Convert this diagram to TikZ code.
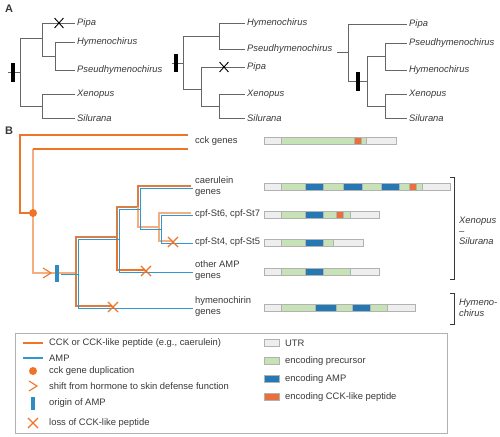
\documentclass[tikz,border=0pt]{standalone}
\usepackage{fontspec}
\setmainfont{Liberation Sans}
\usepackage{tikz}
\usetikzlibrary{shapes.misc}
\definecolor{cckC}{HTML}{EE7428}
\definecolor{cckdarkC}{HTML}{D97E44}
\definecolor{ccklightC}{HTML}{F4AE80}
\definecolor{ampC}{HTML}{2E98D0}
\definecolor{ampbarC}{HTML}{2E8CC2}
\definecolor{utrC}{HTML}{EEEEEE}
\definecolor{precC}{HTML}{C6E2B6}
\definecolor{ampsegC}{HTML}{2479B4}
\definecolor{cckSegC}{HTML}{E8703C}
\definecolor{txtC}{HTML}{383838}
\definecolor{treeC}{HTML}{666666}

\newcommand{\genebar}[2]{%
  \foreach \a/\b/\c in {#2}
    \draw[segment, fill=\c] (\a,#1-3.5) rectangle (\b,#1+3.5);}

\begin{document}
\begin{tikzpicture}[x=1pt, y=-1pt,
  every node/.style={text=txtC, font=\fontsize{9.4}{11}\selectfont},
  panel/.style={font=\bfseries\fontsize{11}{13}\selectfont, inner sep=0pt},
  leaf/.style={anchor=west, inner sep=2pt, font=\itshape\fontsize{9.4}{11}\selectfont},
  gene/.style={anchor=west, inner sep=3pt, align=left},
  legtext/.style={anchor=west, inner sep=2pt},
  branch/.style={draw=treeC, line width=0.8pt},
  gainbar/.style={fill=black, minimum width=4pt, minimum height=19pt, inner sep=0pt},
  lossA/.style={cross out, draw=black, line width=0.9pt, minimum width=8pt, minimum height=9pt, inner sep=0pt},
  lossB/.style={cross out, draw=cckC, line width=1.1pt, minimum width=9pt, minimum height=9pt, inner sep=0pt},
  dupdot/.style={circle, fill=cckC, minimum size=8pt, inner sep=0pt},
  ampbar/.style={fill=ampbarC, minimum width=4.5pt, minimum height=17pt, inner sep=0pt},
  cckline/.style={draw=cckC, line width=1.1pt},
  cckdark/.style={draw=cckdarkC, line width=1.3pt},
  cckthin/.style={draw=ccklightC, line width=1.2pt},
  ampline/.style={draw=ampC, line width=1.1pt},
  twinO/.style={transform canvas={shift={(-1.1pt,1.1pt)}}},
  twinB/.style={transform canvas={shift={(1.1pt,-1.1pt)}}},
  segment/.style={draw=black!30, line width=0.5pt},
  brack/.style={draw=txtC, line width=0.8pt}]
\useasboundingbox (0,0) rectangle (500,436);

% panel A
\node[panel] (labA) at (9,9) {A};

% tree 1
\coordinate (a1s) at (8,72);
\coordinate (a1r) at (20,72);
\coordinate (a1n1) at (42,38);
\coordinate (a1n2) at (55,56);
\coordinate (a1n3) at (42,106);
\node[leaf] (a1pipa) at (75,23) {Pipa};
\node[leaf] (a1hym) at (75,42) {Hymenochirus};
\node[leaf] (a1pse) at (75,70) {Pseudhymenochirus};
\node[leaf] (a1xen) at (75,94) {Xenopus};
\node[leaf] (a1sil) at (75,118) {Silurana};
\draw[branch] (a1s) -- (a1r) |- (a1n1) |- (a1pipa.west);
\draw[branch] (a1n1) |- (a1n2) |- (a1hym.west);
\draw[branch] (a1n2) |- (a1pse.west);
\draw[branch] (a1r) |- (a1n3) |- (a1xen.west);
\draw[branch] (a1n3) |- (a1sil.west);
\node[gainbar] (a1gain) at (13,72) {};
\node[lossA] (a1loss) at (59,23) {};

% tree 2
\coordinate (a2s) at (172,63);
\coordinate (a2r) at (183,63);
\coordinate (a2n1) at (219,36);
\coordinate (a2n2) at (201,89);
\coordinate (a2n3) at (219,106);
\node[leaf] (a2hym) at (245,23) {Hymenochirus};
\node[leaf] (a2pse) at (245,49) {Pseudhymenochirus};
\node[leaf] (a2pipa) at (245,67) {Pipa};
\node[leaf] (a2xen) at (245,94) {Xenopus};
\node[leaf] (a2sil) at (245,118) {Silurana};
\draw[branch] (a2s) -- (a2r) |- (a2n1) |- (a2hym.west);
\draw[branch] (a2n1) |- (a2pse.west);
\draw[branch] (a2r) |- (a2n2) |- (a2pipa.west);
\draw[branch] (a2n2) |- (a2n3) |- (a2xen.west);
\draw[branch] (a2n3) |- (a2sil.west);
\node[gainbar, minimum height=17pt] (a2gain) at (176,63) {};
\node[lossA] (a2loss) at (224,67) {};

% tree 3
\coordinate (a3s) at (337,52);
\coordinate (a3r) at (348,52);
\coordinate (a3n1) at (367,81);
\coordinate (a3n2) at (385,56);
\coordinate (a3n3) at (385,106);
\node[leaf] (a3pipa) at (407,24) {Pipa};
\node[leaf] (a3pse) at (407,43) {Pseudhymenochirus};
\node[leaf] (a3hym) at (407,70) {Hymenochirus};
\node[leaf] (a3xen) at (407,94) {Xenopus};
\node[leaf] (a3sil) at (407,118) {Silurana};
\draw[branch] (a3s) -- (a3r) |- (a3pipa.west);
\draw[branch] (a3r) |- (a3n1) |- (a3n2) |- (a3pse.west);
\draw[branch] (a3n2) |- (a3hym.west);
\draw[branch] (a3n1) |- (a3n3) |- (a3xen.west);
\draw[branch] (a3n3) |- (a3sil.west);
\node[gainbar] (a3gain) at (358,81) {};

% panel B
\node[panel] (labB) at (9,131) {B};

\coordinate (cckA) at (188,135);
\coordinate (cckB) at (188,149);
\coordinate (broot) at (20,213);
\coordinate (dup) at (33,213);
\coordinate (dupup) at (33,149);
\coordinate (shift) at (47,273);
\coordinate (b1) at (77,273);
\coordinate (b2) at (118,238);
\coordinate (b3) at (139,208);
\coordinate (b4) at (160,228);
\coordinate (x45) at (173,242);
\coordinate (xoth) at (146,271);
\coordinate (xhym) at (113,307);
\node[gene] (cckg) at (192,141) {cck genes};
\node[gene] (caer) at (192,187) {caerulein\\genes};
\node[gene] (cpf67) at (192,214) {cpf-St6, cpf-St7};
\node[gene] (cpf45) at (192,242) {cpf-St4, cpf-St5};
\node[gene] (oth) at (192,271) {other AMP\\genes};
\node[gene] (hym) at (192,307) {hymenochirin\\genes};

\draw[cckline] (cckA) -| (broot) -- (dup);
\draw[cckthin] (dup) -- (dupup);
\draw[cckline] (dupup) -- (cckB);
\draw[cckthin] (dup) |- (b1);
\draw[cckline] (shift) ++(-4,-5) -- ++(8,5) -- ++(-8,5);

% CCK lineage
\draw[cckdark, twinO] (b1) |- (b2) |- (b3) |- (caer.west);
\draw[cckdark, twinO] (b1) |- (xhym);
\draw[cckline, line width=1.5pt, twinO] (b2) |- (xoth);
\draw[cckthin, twinO] (b3) |- (b4) |- (cpf67.west);
\draw[cckthin, twinO] (b4) |- (x45);
% AMP lineage
\node[ampbar] (amp) at (57,273) {};
\draw[ampline, twinB] (amp) -- (b1) |- (b2) |- (b3) |- (caer.west);
\draw[ampline, twinB] (b1) |- (hym.west);
\draw[ampline, twinB] (b2) |- (oth.west);
\draw[ampline, twinB] (b3) |- (b4) |- (cpf67.west);
\draw[ampline, twinB] (b4) |- (cpf45.west);
\node[dupdot] (dupn) at (dup) {};
\node[lossB] (loss45) at (x45) {};
\node[lossB] (lossoth) at (xoth) {};
\node[lossB] (losshym) at (xhym) {};

% gene structures
\genebar{141}{264/281/utrC, 281/354/precC, 354/361/cckSegC, 361/366/precC, 366/396/utrC}
\genebar{187}{264/281/utrC, 281/305/precC, 305/323/ampsegC, 323/343/precC, 343/362/ampsegC, 362/381/precC, 381/399/ampsegC, 399/409/precC, 409/416/cckSegC, 416/422/precC, 422/450/utrC}
\genebar{215}{264/281/utrC, 281/305/precC, 305/323/ampsegC, 323/336/precC, 336/343/cckSegC, 343/350/precC, 350/379/utrC}
\genebar{243}{264/281/utrC, 281/305/precC, 305/323/ampsegC, 323/333/precC, 333/363/utrC}
\genebar{272}{264/281/utrC, 281/305/precC, 305/323/ampsegC, 323/350/precC, 350/379/utrC}
\genebar{308}{264/281/utrC, 281/315/precC, 315/336/ampsegC, 336/352/precC, 352/370/ampsegC, 370/387/precC, 387/415/utrC}

% brackets
\coordinate (bxt) at (454,177);
\coordinate (bxb) at (454,279);
\coordinate (bht) at (454,293);
\coordinate (bhb) at (454,324);
\draw[brack] ([xshift=-4pt]bxt) -- (bxt) -- (bxb) -- ([xshift=-4pt]bxb);
\draw[brack] ([xshift=-4pt]bht) -- (bht) -- (bhb) -- ([xshift=-4pt]bhb);
\node[anchor=west, align=left, inner sep=2pt, font=\itshape\fontsize{9.4}{10.5}\selectfont] (xslab) at (457,231) {Xenopus\\--\\Silurana};
\node[anchor=west, align=left, inner sep=2pt, font=\itshape\fontsize{9.4}{11}\selectfont] (hylab) at (457,308) {Hymeno-\\chirus};

% legend
\node[draw=black!30, line width=0.8pt, minimum width=432pt, minimum height=100pt, anchor=north west, inner sep=0pt] (legend) at (15,333) {};
\coordinate (l1a) at (23,343);
\coordinate (l1b) at (43,343);
\coordinate (l2a) at (23,358);
\coordinate (l2b) at (43,358);
\coordinate (l4) at (33,386);
\draw[cckline] (l1a) -- (l1b);
\draw[ampline] (l2a) -- (l2b);
\node[dupdot] (l3dot) at (33,371) {};
\draw[cckline] (l4) ++(-4,-5) -- ++(8,5) -- ++(-8,5);
\node[ampbar, minimum height=13pt] (l5bar) at (33,403) {};
\node[lossB] (l6x) at (33,423) {};
\node[legtext] (l1) at (47,343) {CCK or CCK-like peptide (e.g., caerulein)};
\node[legtext] (l2) at (47,358) {AMP};
\node[legtext] (l3) at (47,371) {cck gene duplication};
\node[legtext] (l4t) at (47,386) {shift from hormone to skin defense function};
\node[legtext] (l5) at (47,403) {origin of AMP};
\node[legtext] (l6) at (47,423) {loss of CCK-like peptide};

\foreach \y/\c/\t in {343/utrC/UTR, 361/precC/encoding precursor, 379/ampsegC/encoding AMP, 397/cckSegC/encoding CCK-like peptide}{
  \draw[segment, fill=\c] (264,\y-3.5) rectangle (279,\y+3.5);
  \node[legtext] at (283,\y) {\t};
}
\end{tikzpicture}
\end{document}
